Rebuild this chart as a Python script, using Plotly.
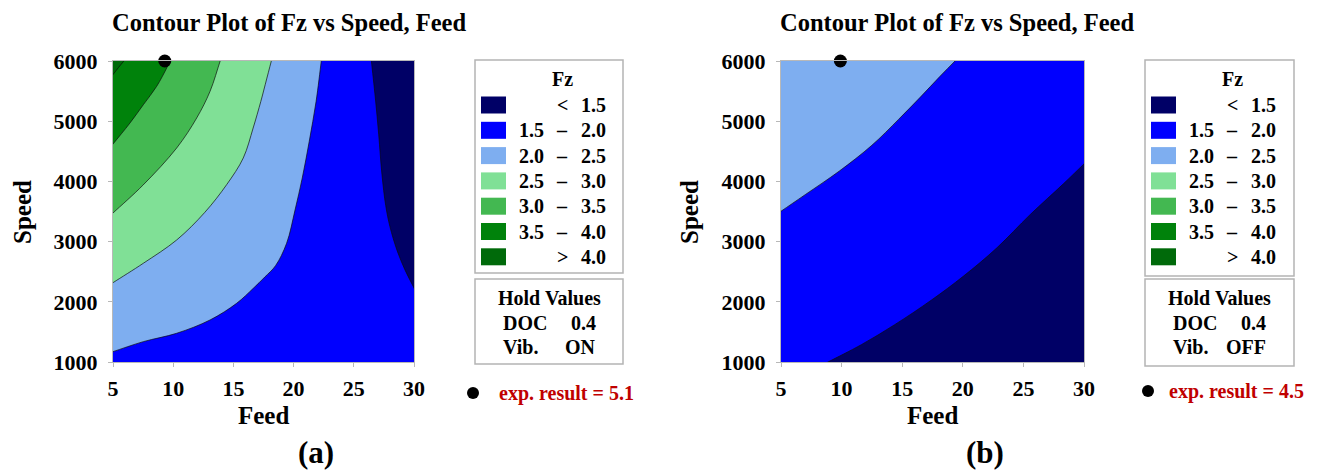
import math
import plotly.graph_objects as go

# ---------------- data ----------------
FEED_RANGE = [5, 30]
SPEED_RANGE = [1000, 6000]
feed_ticks = [5, 10, 15, 20, 25, 30]
speed_ticks = [1000, 2000, 3000, 4000, 5000, 6000]

level_left = ["", "1.5", "2.0", "2.5", "3.0", "3.5", ""]
level_sym = ["<", "\u2013", "\u2013", "\u2013", "\u2013", "\u2013", ">"]
level_right = ["1.5", "2.0", "2.5", "3.0", "3.5", "4.0", "4.0"]
level_colors = ["#000066", "#0000ff", "#7eaef0", "#80e096", "#43b851", "#00820b", "#006a0a"]

# Panel (a): Vib. ON  -- contour boundaries (Feed, Speed)
a_b15_feed = [26.46, 26.79, 27.07, 27.34, 27.65, 28.0, 28.6, 29.25, 30.0]
a_b15_speed = [6000, 5385, 4776, 4112, 3600, 3250, 2850, 2530, 2230]
a_b20_feed = [5.0, 7.52, 10.29, 13.06, 15.27, 16.65, 17.6, 18.5, 19.42, 20.12, 20.72, 21.3, 21.87, 22.3]
a_b20_speed = [1172, 1338, 1477, 1698, 1975, 2224, 2410, 2600, 2972, 3525, 4057, 4666, 5330, 6000]
a_b25_feed = [5.0, 7.52, 10.29, 12.6, 14.44, 15.82, 16.64, 17.28, 17.64, 18.15]
a_b25_speed = [2318, 2640, 3027, 3480, 3946, 4389, 4887, 5330, 5606, 6000]
a_b30_feed = [5.0, 7.5, 10.29, 11.95, 13.06, 13.9]
a_b30_speed = [3475, 3940, 4555, 5053, 5496, 6000]
a_b35_feed = [5.0, 6.41, 7.52, 8.63, 9.46, 9.73]
a_b35_speed = [4621, 4970, 5274, 5580, 5884, 6000]
a_b40_feed = [5.0, 5.45, 5.9]
a_b40_speed = [5775, 5890, 6000]
a_exp_feed, a_exp_speed = [9.3], [6000]

# Panel (b): Vib. OFF
b_b15_feed = [8.88, 11.63, 14.38, 17.4, 20.04, 22.8, 25.55, 28.3, 30.0]
b_b15_speed = [1000, 1288, 1620, 2027, 2424, 2894, 3447, 3960, 4290]
b_b20_feed = [5.0, 7.0, 9.8, 12.5, 14.7, 16.5, 18.1, 19.36]
b_b20_speed = [3504, 3780, 4170, 4600, 5030, 5400, 5741, 6000]
b_exp_feed, b_exp_speed = [9.9], [6000]

title_text = "Contour Plot of Fz vs Speed, Feed"
hold_doc = ["0.4", "0.4"]
hold_vib = ["ON", "OFF"]
exp_results = ["5.1", "4.5"]
panel_tags = ["(a)", "(b)"]

# ---------------- layout helpers ----------------
W, H = 1333, 472
FONT = "Liberation Serif"
LINE = "rgba(10,10,10,0.85)"


def X(p):
    return p / W


def Y(p):
    return 1 - p / H


def region(feed, speed, corner, color, xa, ya):
    """Filled area bounded by a contour line and the (clipped) plot edges."""
    fx0, fx1 = FEED_RANGE
    sy0, sy1 = SPEED_RANGE
    xr, yr = fx1 - fx0, sy1 - sy0

    def extend(px, py, qx, qy, length=0.05):
        dx, dy = (px - qx) / xr, (py - qy) / yr
        n = math.hypot(dx, dy)
        return px + dx / n * length * xr, py + dy / n * length * yr

    xs, ys = [], []
    x, y = extend(feed[0], speed[0], feed[1], speed[1])
    xs.append(x); ys.append(y)
    xs += list(feed); ys += list(speed)
    x, y = extend(feed[-1], speed[-1], feed[-2], speed[-2])
    xs.append(x); ys.append(y)
    pad = 0.12
    xs.append(fx0 - pad * xr if corner[0] == "left" else fx1 + pad * xr)
    ys.append(sy1 + pad * yr if corner[1] == "top" else sy0 - pad * yr)
    return go.Scatter(x=xs, y=ys, mode="lines", fill="toself", fillcolor=color,
                      line=dict(color=LINE, width=0.8, shape="spline", smoothing=1.0),
                      hoverinfo="skip", showlegend=False, xaxis=xa, yaxis=ya)


def note(text, x, y, size=20, color="black", xanchor="center", angle=0):
    return dict(text="<b>" + text + "</b>", x=X(x), y=Y(y), xref="paper", yref="paper",
                xanchor=xanchor, yanchor="middle", showarrow=False, textangle=angle,
                font=dict(family=FONT, size=size, color=color))


fig = go.Figure()

# Panel (a)
fig.add_trace(region(a_b20_feed, a_b20_speed, ("left", "top"), level_colors[2], "x", "y"))
fig.add_trace(region(a_b25_feed, a_b25_speed, ("left", "top"), level_colors[3], "x", "y"))
fig.add_trace(region(a_b30_feed, a_b30_speed, ("left", "top"), level_colors[4], "x", "y"))
fig.add_trace(region(a_b35_feed, a_b35_speed, ("left", "top"), level_colors[5], "x", "y"))
fig.add_trace(region(a_b40_feed, a_b40_speed, ("left", "top"), level_colors[6], "x", "y"))
fig.add_trace(region(a_b15_feed, a_b15_speed, ("right", "top"), level_colors[0], "x", "y"))
fig.add_trace(go.Scatter(x=a_exp_feed, y=a_exp_speed, mode="markers", cliponaxis=False,
                         marker=dict(color="black", size=13), showlegend=False,
                         xaxis="x", yaxis="y"))

# Panel (b)
fig.add_trace(region(b_b20_feed, b_b20_speed, ("left", "top"), level_colors[2], "x2", "y2"))
fig.add_trace(region(b_b15_feed, b_b15_speed, ("right", "bottom"), level_colors[0], "x2", "y2"))
fig.add_trace(go.Scatter(x=b_exp_feed, y=b_exp_speed, mode="markers", cliponaxis=False,
                         marker=dict(color="black", size=13), showlegend=False,
                         xaxis="x2", yaxis="y2"))

panels = [
    dict(plot=(113, 414, 61, 362), box=(475, 623, 60, 273), hold=(279, 364),
         title_x=110, speed_x=22, tag_x=316, dot=(473, 393), exp_x=497, exp_y=393),
    dict(plot=(781, 1084, 61, 362), box=(1145, 1294, 60, 276), hold=(279, 366),
         title_x=778, speed_x=689, tag_x=985, dot=(1148, 391), exp_x=1167, exp_y=391),
]

axis_common = dict(showgrid=False, zeroline=False, showline=True, mirror=True,
                   linecolor="#b8b8b8", linewidth=1, ticks="outside", ticklen=4,
                   tickcolor="#b8b8b8", tickwidth=1, automargin=False,
                   tickfont=dict(family=FONT, size=22, color="black", weight="bold"))

shapes, annotations = [], []
layout_axes = {}
for i, p in enumerate(panels):
    x0, x1, y0, y1 = p["plot"]
    sfx = "" if i == 0 else "2"
    layout_axes["xaxis" + sfx] = dict(axis_common, domain=[X(x0), X(x1)], range=FEED_RANGE,
                                      tickvals=feed_ticks, anchor="y" + sfx,
                                      ticklabelstandoff=3)
    layout_axes["yaxis" + sfx] = dict(axis_common, domain=[Y(y1), Y(y0)], range=SPEED_RANGE,
                                      tickvals=speed_ticks, anchor="x" + sfx,
                                      ticklabelstandoff=6)
    cx = (x0 + x1) / 2
    annotations.append(note(title_text, p["title_x"], 23, size=24.5, xanchor="left"))
    annotations.append(note("Feed", cx, 415, size=25))
    annotations.append(note("Speed", p["speed_x"], 212, size=25, angle=-90))
    annotations.append(note(panel_tags[i], p["tag_x"], 452, size=31))
    # legend box
    bl, br, bt, bb = p["box"]
    shapes.append(dict(type="rect", xref="paper", yref="paper", x0=X(bl), x1=X(br),
                       y0=Y(bb), y1=Y(bt), line=dict(color="#b4b4b4", width=1.5),
                       fillcolor="white", layer="above"))
    annotations.append(note("Fz", bl + 87, 79))
    for k in range(len(level_colors)):
        ry = 105 + k * 25.3
        shapes.append(dict(type="rect", xref="paper", yref="paper", x0=X(bl + 6), x1=X(bl + 31),
                           y0=Y(ry + 8.5), y1=Y(ry - 8.5), line=dict(width=0),
                           fillcolor=level_colors[k], layer="above"))
        if level_left[k]:
            annotations.append(note(level_left[k], bl + 71, ry, xanchor="right"))
        annotations.append(note(level_sym[k], bl + 87, ry))
        annotations.append(note(level_right[k], bl + 133, ry, xanchor="right"))
    # hold values box
    ht, hb = p["hold"]
    shapes.append(dict(type="rect", xref="paper", yref="paper", x0=X(bl), x1=X(br),
                       y0=Y(hb), y1=Y(ht), line=dict(color="#b4b4b4", width=1.5),
                       fillcolor="white", layer="above"))
    annotations.append(note("Hold Values", (bl + br) / 2, 298))
    for ry, lab, val in [(323, "DOC", hold_doc[i]), (347, "Vib.", hold_vib[i])]:
        annotations.append(note(lab, bl + 26, ry, xanchor="left"))
        annotations.append(note(val, bl + 123, ry, xanchor="right"))
    # exp. result note
    dx, dy = p["dot"]
    shapes.append(dict(type="circle", xref="paper", yref="paper", x0=X(dx - 6), x1=X(dx + 6),
                       y0=Y(dy + 6), y1=Y(dy - 6), line=dict(width=0), fillcolor="black"))
    annotations.append(note("exp. result = " + exp_results[i], p["exp_x"], p["exp_y"],
                            color="#c00000", xanchor="left"))

fig.update_layout(
    width=W, height=H, margin=dict(l=0, r=0, t=0, b=0, pad=0, autoexpand=False),
    paper_bgcolor="white", plot_bgcolor=level_colors[1],
    showlegend=False, shapes=shapes, annotations=annotations,
    font=dict(family=FONT, color="black"),
    **layout_axes,
)

fig.write_html("out.html")
